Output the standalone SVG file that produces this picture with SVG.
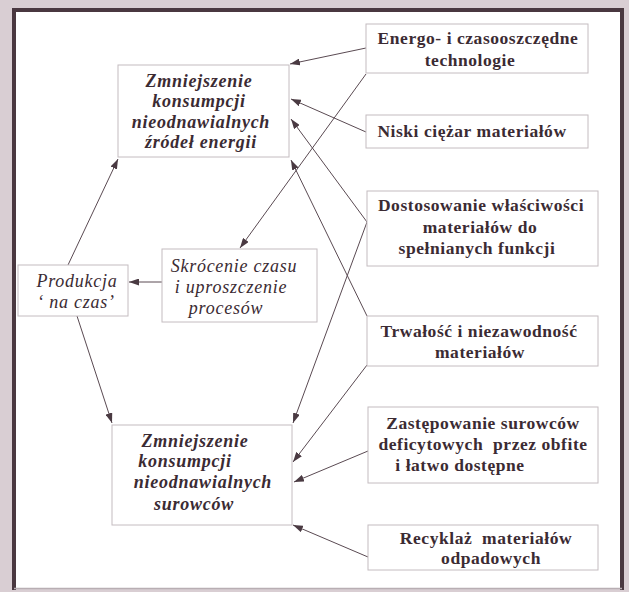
<svg xmlns="http://www.w3.org/2000/svg" width="629" height="592" viewBox="0 0 629 592">
<defs>
<marker id="ah" markerUnits="userSpaceOnUse" markerWidth="10" markerHeight="7" refX="10" refY="3.5" orient="auto">
<path d="M0,0 L10,3.5 L0,7 z" fill="#4a3a42"/>
</marker>
<style>
.box{fill:#ffffff;stroke:#c4bcc0;stroke-width:1}
.r{font-family:"Liberation Serif","Times New Roman",serif;font-weight:bold;font-size:17.5px;letter-spacing:0.55px;fill:#3b2b33;text-anchor:middle}
.bi{font-family:"Liberation Serif","Times New Roman",serif;font-weight:bold;font-style:italic;font-size:18px;letter-spacing:0.75px;fill:#3b2b33;text-anchor:middle}
.i{font-family:"Liberation Serif","Times New Roman",serif;font-style:italic;font-size:18px;letter-spacing:0.75px;fill:#3b2b33;text-anchor:middle}
.c{stroke:#5a4a52;stroke-width:1;fill:none;marker-end:url(#ah)}
</style>
</defs>
<rect x="0" y="0" width="629" height="592" fill="#d9ced3"/>
<rect x="14" y="10" width="608" height="578" fill="#ffffff"/>
<path d="M14,590 L14,10 L622,10 L622,590" fill="none" stroke="#4a3840" stroke-width="4"/>
<line x1="14" y1="588.5" x2="622" y2="588.5" stroke="#b8aeb3" stroke-width="1.5"/>

<g id="connectors">
<line class="c" x1="366" y1="48" x2="290" y2="64"/>
<line class="c" x1="366" y1="132" x2="291" y2="99"/>
<line class="c" x1="367" y1="222" x2="291" y2="119"/>
<line class="c" x1="367" y1="316" x2="291" y2="160"/>
<line class="c" x1="366" y1="74" x2="240" y2="248"/>
<line class="c" x1="162" y1="282" x2="129" y2="282"/>
<line class="c" x1="68" y1="265" x2="118" y2="159"/>
<line class="c" x1="77" y1="316" x2="112" y2="423"/>
<line class="c" x1="367" y1="222" x2="293" y2="423"/>
<line class="c" x1="367" y1="365" x2="293" y2="462"/>
<line class="c" x1="368" y1="451" x2="294" y2="482"/>
<line class="c" x1="368" y1="557" x2="293" y2="525"/>
</g>

<g id="energia">
<rect class="box" x="118" y="65" width="171" height="92"/>
<text class="bi" x="199" y="87">Zmniejszenie</text>
<text class="bi" x="199" y="107">konsumpcji</text>
<text class="bi" x="201" y="127.5">nieodnawialnych</text>
<text class="bi" x="201" y="148">źródeł energii</text>
</g>

<g id="produkcja">
<rect class="box" x="18" y="265" width="110" height="51"/>
<text class="i" x="77" y="287">Produkcja</text>
<text class="i" x="76" y="308">‘ na czas’</text>
</g>

<g id="skrocenie">
<rect class="box" x="162" y="249" width="155" height="73"/>
<text class="i" x="234" y="272">Skrócenie czasu</text>
<text class="i" x="231" y="293">i uproszczenie</text>
<text class="i" x="226" y="314">procesów</text>
</g>

<g id="surowce">
<rect class="box" x="112" y="425" width="180" height="100"/>
<text class="bi" x="195" y="447">Zmniejszenie</text>
<text class="bi" x="185" y="467">konsumpcji</text>
<text class="bi" x="203" y="488">nieodnawialnych</text>
<text class="bi" x="194" y="510">surowców</text>
</g>

<g id="energo">
<rect class="box" x="366" y="24" width="222" height="49"/>
<text class="r" x="478" y="44">Energo- i czasooszczędne</text>
<text class="r" x="470" y="66">technologie</text>
</g>

<g id="niski">
<rect class="box" x="366" y="115" width="222" height="33"/>
<text class="r" x="472" y="137">Niski ciężar materiałów</text>
</g>

<g id="dostosowanie">
<rect class="box" x="367" y="191" width="231" height="75"/>
<text class="r" x="481" y="211">Dostosowanie właściwości</text>
<text class="r" x="480" y="233">materiałów do</text>
<text class="r" x="477" y="254">spełnianych funkcji</text>
</g>

<g id="trwalosc">
<rect class="box" x="367" y="316" width="231" height="50"/>
<text class="r" x="479" y="337">Trwałość i niezawodność</text>
<text class="r" x="480" y="358">materiałów</text>
</g>

<g id="zastepowanie">
<rect class="box" x="368" y="407" width="230" height="76"/>
<text class="r" x="483" y="429">Zastępowanie surowców</text>
<text class="r" x="483" y="450" xml:space="preserve">deficytowych  przez obfite</text>
<text class="r" x="460" y="471">i łatwo dostępne</text>
</g>

<g id="recyklaz">
<rect class="box" x="368" y="525" width="230" height="45"/>
<text class="r" x="486" y="544" xml:space="preserve">Recyklaż  materiałów</text>
<text class="r" x="491" y="564">odpadowych</text>
</g>
</svg>
